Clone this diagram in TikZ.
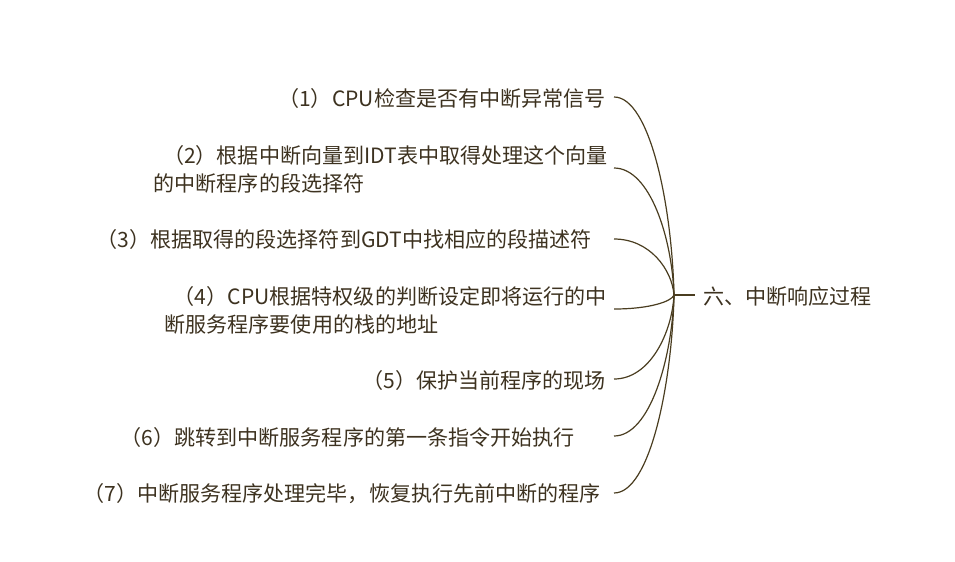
\documentclass[tikz,border=0pt]{standalone}
\usepackage{fontspec}
\setmainfont{Noto Sans CJK SC}
\begin{document}
\begin{tikzpicture}[x=0.75pt,y=-0.75pt,
  txt/.style={text=txtc,font=\fontsize{15.8pt}{21pt}\selectfont,inner sep=0pt,align=left},
  br/.style={draw=linec,line width=0.9pt}]
\definecolor{txtc}{HTML}{3D3220}
\definecolor{linec}{HTML}{4A3D20}
\useasboundingbox (0,0) rectangle (955,561);
\coordinate (hub) at (674,295);
\node[txt,anchor=west] (root) at (703,296) {六、中断响应过程};
\draw[draw=linec,line width=2pt] (hub) -- (695,295);
\foreach \n/\y in {a/97,b/168,c/239,d/309,e/379,f/436,g/493}{
  \coordinate (\n) at (614,\y);
  \draw[br] (\n) .. controls (650,\y) and (672,{295+(\y-295)*0.45}) .. (hub);
}
\node[txt,anchor=east] (ta) at (606,98) {（1）CPU检查是否有中断异常信号};
\node[txt,anchor=east] (tb) at (608,169) {\hspace*{7pt}（2）根据中断向量到IDT表中取得处理这个向量\\的中断程序的段选择符};
\node[txt,anchor=east] (tc) at (592,239) {（3）根据取得的段选择符到GDT中找相应的段描述符};
\node[txt,anchor=east] (td) at (607,310) {\hspace*{7pt}（4）CPU根据特权级的判断设定即将运行的中\\断服务程序要使用的栈的地址};
\node[txt,anchor=east] (te) at (606,380) {（5）保护当前程序的现场};
\node[txt,anchor=east] (tf) at (575,437) {（6）跳转到中断服务程序的第一条指令开始执行};
\node[txt,anchor=east] (tg) at (601,494) {（7）中断服务程序处理完毕，恢复执行先前中断的程序};
\end{tikzpicture}
\end{document}
